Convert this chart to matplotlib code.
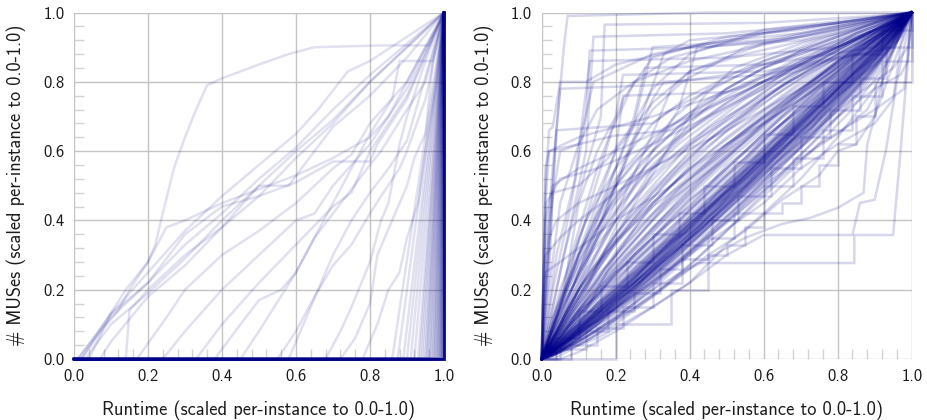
import matplotlib
matplotlib.use("Agg")
import matplotlib.pyplot as plt
from matplotlib.ticker import MultipleLocator, FormatStrFormatter

plt.rcParams['font.family'] = ['cmss10', 'DejaVu Sans']
plt.rcParams['axes.unicode_minus'] = False

LINE_COLOR = '#00008b'
XLABEL = 'Runtime (scaled per-instance to 0.0-1.0)'
YLABEL = '# MUSes (scaled per-instance to 0.0-1.0)'
TICKS = [0.0, 0.2, 0.4, 0.6, 0.8, 1.0]

# ---------------- left panel ----------------
# instances whose MUSes only appear at the very end: runtime fraction where
# the first MUS is found (curve then rises straight to (1, 1))
left_late_starts = [0.86, 0.875, 0.89, 0.90, 0.91, 0.92, 0.93, 0.935, 0.94,
                    0.945, 0.95, 0.953, 0.956, 0.96, 0.963, 0.966, 0.97,
                    0.972, 0.975, 0.977, 0.98, 0.982, 0.984, 0.986, 0.988,
                    0.99, 0.991, 0.992, 0.994, 0.995, 0.996, 0.997, 0.998,
                    0.999, 1.0, 1.0, 1.0, 1.0, 1.0, 1.0, 1.0, 1.0, 1.0, 1.0,
                    1.0, 1.0, 1.0, 1.0, 1.0, 1.0, 1.0, 1.0, 1.0, 1.0, 1.0]

# instances with MUSes spread over the run
left_curves = [
    [(0.0, 0.0), (0.02, 0.0), (0.08, 0.10), (0.14, 0.20), (0.20, 0.28),
     (0.22, 0.33), (0.24, 0.42), (0.27, 0.55), (0.30, 0.64), (0.33, 0.72),
     (0.36, 0.79), (0.40, 0.81), (0.50, 0.85), (0.58, 0.88), (0.65, 0.90),
     (0.83, 0.905), (0.96, 0.905), (1.0, 1.0)],
    [(0.0, 0.0), (0.01, 0.0), (0.1, 0.12), (0.2, 0.22), (0.3, 0.33),
     (0.4, 0.42), (0.5, 0.52), (0.6, 0.61), (0.7, 0.72), (0.8, 0.82),
     (0.9, 0.91), (1.0, 1.0)],
    [(0.0, 0.0), (0.03, 0.0), (0.1, 0.10), (0.2, 0.19), (0.3, 0.29),
     (0.4, 0.40), (0.5, 0.50), (0.6, 0.60), (0.7, 0.69), (0.8, 0.80),
     (1.0, 1.0)],
    [(0.0, 0.0), (0.02, 0.0), (0.08, 0.09), (0.12, 0.14), (0.15, 0.20),
     (0.20, 0.28), (0.25, 0.38), (0.30, 0.40), (0.40, 0.45), (0.50, 0.49),
     (0.60, 0.53), (0.70, 0.58), (0.80, 0.64), (0.85, 0.70), (1.0, 1.0)],
    [(0.0, 0.0), (0.04, 0.0), (0.1, 0.13), (0.2, 0.22), (0.3, 0.36),
     (0.4, 0.44), (0.5, 0.47), (0.6, 0.51), (0.7, 0.57), (0.8, 0.57),
     (0.82, 0.62), (0.9, 0.75), (1.0, 1.0)],
    [(0.0, 0.0), (0.07, 0.0), (0.1, 0.05), (0.2, 0.18), (0.3, 0.27),
     (0.4, 0.38), (0.5, 0.50), (0.58, 0.50), (0.65, 0.60), (0.7, 0.67),
     (0.8, 0.76), (0.9, 0.87), (1.0, 1.0)],
    [(0.0, 0.0), (0.01, 0.0), (0.1, 0.13), (0.2, 0.25), (0.3, 0.37),
     (0.4, 0.47), (0.5, 0.56), (0.6, 0.65), (0.66, 0.72), (0.74, 0.83),
     (0.8, 0.86), (0.9, 0.93), (1.0, 1.0)],
    [(0.0, 0.0), (0.14, 0.0), (0.15, 0.14), (0.2, 0.20), (0.3, 0.30),
     (0.4, 0.38), (0.5, 0.47), (0.6, 0.58), (0.7, 0.68), (0.8, 0.80),
     (1.0, 1.0)],
    [(0.0, 0.0), (0.17, 0.0), (0.25, 0.12), (0.3, 0.20), (0.4, 0.30),
     (0.5, 0.37), (0.6, 0.45), (0.7, 0.55), (0.75, 0.59), (0.8, 0.68),
     (0.9, 0.80), (1.0, 1.0)],
    [(0.0, 0.0), (0.24, 0.0), (0.3, 0.08), (0.4, 0.20), (0.5, 0.30),
     (0.6, 0.40), (0.65, 0.42), (0.7, 0.50), (0.8, 0.62), (0.9, 0.78),
     (1.0, 1.0)],
    [(0.0, 0.0), (0.33, 0.0), (0.4, 0.10), (0.5, 0.22), (0.6, 0.33),
     (0.7, 0.44), (0.75, 0.48), (0.8, 0.60), (0.9, 0.76), (1.0, 1.0)],
    [(0.0, 0.0), (0.38, 0.0), (0.45, 0.10), (0.5, 0.17), (0.56, 0.20),
     (0.6, 0.25), (0.65, 0.35), (0.7, 0.42), (0.8, 0.56), (0.83, 0.60),
     (0.9, 0.72), (0.95, 0.80), (1.0, 1.0)],
    [(0.0, 0.0), (0.45, 0.0), (0.5, 0.08), (0.6, 0.25), (0.7, 0.45),
     (0.8, 0.65), (0.86, 0.75), (0.88, 0.86), (0.97, 0.86), (1.0, 1.0)],
    [(0.0, 0.0), (0.55, 0.0), (0.6, 0.08), (0.65, 0.18), (0.7, 0.27),
     (0.75, 0.33), (0.8, 0.42), (0.83, 0.47), (0.88, 0.55), (0.9, 0.60),
     (0.95, 0.75), (1.0, 1.0)],
    [(0.0, 0.0), (0.58, 0.0), (0.62, 0.10), (0.66, 0.20), (0.7, 0.30),
     (0.75, 0.40), (0.8, 0.48), (0.85, 0.55), (0.9, 0.63), (1.0, 1.0)],
    [(0.0, 0.0), (0.68, 0.0), (0.72, 0.08), (0.75, 0.15), (0.8, 0.28),
     (0.83, 0.40), (0.85, 0.45), (0.88, 0.62), (0.9, 0.70), (0.95, 0.86),
     (1.0, 1.0)],
    [(0.0, 0.0), (0.72, 0.0), (0.76, 0.06), (0.8, 0.16), (0.82, 0.30),
     (0.86, 0.40), (0.9, 0.50), (0.92, 0.58), (0.95, 0.65), (0.97, 0.86),
     (1.0, 1.0)],
    [(0.0, 0.0), (0.78, 0.0), (0.82, 0.10), (0.85, 0.20), (0.88, 0.25),
     (0.9, 0.35), (0.93, 0.45), (0.95, 0.60), (0.98, 0.80), (1.0, 1.0)],
]

# ---------------- right panel ----------------
grid_a = [0.0, 0.1, 0.2, 0.3, 0.4, 0.5, 0.6, 0.7, 0.8, 0.9, 1.0]
grid_b = [0.0, 0.05, 0.15, 0.25, 0.35, 0.45, 0.55, 0.65, 0.75, 0.85, 0.95, 1.0]
grid_c = [0.0, 0.03, 0.13, 0.23, 0.33, 0.43, 0.53, 0.63, 0.73, 0.83, 0.93, 1.0]
grid_d = [0.0, 0.07, 0.17, 0.27, 0.37, 0.47, 0.57, 0.67, 0.77, 0.87, 0.97, 1.0]
grid_e = [0.0, 0.05, 0.10, 0.15, 0.20, 0.25, 0.30, 0.35, 0.40, 0.45, 0.50,
          0.55, 0.60, 0.65, 0.70, 0.75, 0.80, 0.85, 0.90, 0.95, 1.0]

# MUS fraction sampled on grid_a
right_on_grid_a = [
    [0, .09, .19, .28, .39, .48, .58, .69, .79, .90, 1],
    [0, .08, .17, .27, .37, .47, .57, .67, .78, .88, 1],
    [0, .11, .21, .31, .41, .51, .61, .71, .81, .91, 1],
    [0, .07, .16, .25, .35, .44, .55, .66, .76, .87, 1],
    [0, .10, .20, .30, .40, .50, .60, .70, .80, .90, 1],
    [0, .12, .23, .33, .43, .53, .63, .73, .83, .92, 1],
    [0, .06, .14, .23, .33, .43, .53, .64, .74, .86, 1],
    [0, .09, .18, .29, .38, .49, .59, .68, .78, .89, 1],
    [0, .13, .24, .35, .44, .55, .65, .74, .84, .93, 1],
    [0, .08, .18, .26, .36, .46, .56, .65, .77, .88, 1],
    [0, .05, .12, .20, .30, .40, .50, .61, .72, .84, 1],
    [0, .10, .22, .32, .42, .52, .62, .72, .82, .92, 1],
    [0, .14, .27, .38, .48, .58, .68, .77, .86, .94, 1],
    [0, .07, .15, .24, .34, .45, .54, .63, .75, .86, 1],
    [0, .09, .20, .30, .39, .49, .60, .70, .80, .90, 1],
    [0, .04, .10, .18, .27, .37, .48, .59, .70, .83, 1],
    [0, .11, .20, .29, .40, .50, .59, .69, .80, .91, 1],
    [0, .08, .16, .26, .38, .48, .58, .68, .78, .89, 1],
    [0, .15, .28, .40, .50, .58, .67, .76, .84, .92, 1],
    [0, .18, .33, .45, .55, .64, .72, .80, .87, .94, 1],
    [0, .20, .36, .49, .59, .67, .74, .81, .87, .93, 1],
    [0, .13, .26, .37, .47, .57, .66, .75, .83, .91, 1],
    [0, .16, .30, .42, .52, .61, .70, .78, .86, .93, 1],
    [0, .22, .40, .53, .63, .70, .76, .82, .88, .94, 1],
    [0, .25, .45, .58, .66, .73, .79, .85, .90, .95, 1],
    [0, .12, .25, .35, .46, .55, .64, .72, .81, .90, 1],
    [0, .30, .52, .64, .71, .77, .82, .87, .91, .95, 1],
    [0, .17, .34, .48, .60, .69, .77, .84, .90, .95, 1],
    [0, .14, .31, .44, .56, .66, .75, .83, .89, .95, 1],
    [0, .28, .47, .60, .70, .78, .84, .89, .93, .97, 1],
    [0, .10, .30, .45, .55, .62, .68, .75, .82, .90, 1],
    [0, .20, .34, .44, .52, .60, .68, .75, .83, .91, 1],
]

# MUS fraction sampled on grid_b
right_on_grid_b = [
    [0, .04, .14, .24, .34, .44, .54, .64, .74, .84, .94, 1],
    [0, .05, .13, .22, .32, .42, .52, .62, .72, .83, .94, 1],
    [0, .06, .16, .26, .36, .46, .56, .66, .76, .86, .95, 1],
    [0, .03, .12, .21, .31, .41, .51, .61, .71, .82, .93, 1],
    [0, .07, .18, .28, .38, .48, .58, .68, .78, .88, .96, 1],
    [0, .04, .13, .23, .33, .43, .53, .63, .73, .83, .93, 1],
    [0, .02, .10, .19, .29, .39, .49, .60, .70, .81, .92, 1],
    [0, .05, .15, .25, .35, .45, .55, .65, .75, .85, .95, 1],
    [0, .06, .14, .24, .33, .43, .54, .63, .74, .84, .94, 1],
    [0, .03, .11, .20, .30, .40, .50, .60, .71, .81, .93, 1],
    [0, .08, .20, .30, .40, .50, .60, .70, .80, .89, .96, 1],
    [0, .04, .12, .22, .31, .41, .52, .62, .73, .83, .94, 1],
    [0, .01, .07, .16, .26, .36, .46, .57, .67, .79, .91, 1],
    [0, .05, .14, .23, .34, .44, .53, .64, .74, .84, .95, 1],
]

# MUS fraction sampled on grid_c
right_on_grid_c = [
    [0, .02, .10, .19, .28, .38, .47, .57, .67, .77, .89, 1],
    [0, .01, .09, .18, .27, .36, .46, .56, .66, .76, .88, 1],
    [0, .02, .11, .20, .30, .39, .49, .59, .69, .79, .90, 1],
    [0, .01, .08, .16, .25, .35, .44, .54, .64, .75, .87, 1],
    [0, .03, .12, .21, .31, .40, .50, .60, .70, .80, .91, 1],
    [0, .02, .09, .17, .26, .36, .45, .55, .65, .76, .88, 1],
    [0, .01, .07, .15, .24, .33, .42, .52, .62, .73, .86, 1],
    [0, .02, .10, .18, .29, .37, .48, .58, .67, .78, .90, 1],
    [0, .03, .13, .22, .32, .42, .51, .61, .71, .81, .92, 1],
    [0, .01, .06, .13, .21, .30, .40, .50, .60, .71, .85, 1],
    [0, .08, .25, .38, .50, .60, .68, .76, .83, .89, .96, 1],
    [0, .06, .20, .32, .44, .54, .64, .72, .80, .88, .95, 1],
    [0, .10, .30, .44, .55, .64, .72, .79, .85, .91, .96, 1],
    [0, .05, .18, .30, .41, .52, .62, .71, .80, .88, .95, 1],
    [0, .12, .35, .50, .61, .69, .76, .82, .87, .92, .97, 1],
    [0, .04, .16, .28, .40, .51, .61, .70, .79, .87, .95, 1],
]

# MUS fraction sampled on grid_d
right_on_grid_d = [
    [0, .05, .14, .24, .34, .44, .54, .64, .74, .84, .95, 1],
    [0, .04, .13, .23, .32, .42, .52, .62, .72, .83, .94, 1],
    [0, .06, .15, .25, .35, .45, .55, .65, .75, .85, .96, 1],
    [0, .03, .12, .21, .30, .40, .50, .60, .70, .81, .93, 1],
    [0, .05, .15, .24, .33, .43, .53, .63, .73, .84, .95, 1],
    [0, .04, .11, .19, .28, .38, .48, .58, .69, .80, .93, 1],
    [0, .06, .16, .26, .36, .46, .56, .66, .76, .86, .97, 1],
    [0, .14, .30, .42, .52, .61, .69, .77, .84, .91, .98, 1],
    [0, .11, .26, .38, .49, .59, .68, .76, .83, .90, .97, 1],
    [0, .18, .38, .52, .62, .70, .77, .83, .88, .93, .98, 1],
    [0, .09, .22, .34, .46, .56, .65, .74, .82, .89, .97, 1],
    [0, .20, .42, .57, .67, .74, .80, .85, .89, .93, .98, 1],
    [0, .13, .29, .43, .55, .65, .73, .80, .86, .92, .98, 1],
]

# MUS fraction sampled on the fine grid_e
right_on_grid_e = [
    [0, .03, .09, .13, .18, .22, .27, .33, .38, .43, .47, .53, .58, .62,
     .68, .73, .77, .82, .88, .93, 1],
    [0, .06, .10, .16, .20, .26, .31, .35, .41, .45, .51, .56, .60, .66,
     .71, .75, .81, .86, .90, .95, 1],
    [0, .02, .07, .12, .16, .21, .25, .31, .36, .40, .46, .50, .56, .61,
     .65, .70, .76, .80, .86, .92, 1],
    [0, .05, .11, .15, .21, .25, .30, .36, .40, .46, .50, .55, .61, .65,
     .70, .76, .80, .85, .90, .94, 1],
    [0, .04, .08, .14, .19, .23, .29, .34, .37, .43, .48, .52, .57, .63,
     .67, .72, .78, .83, .87, .93, 1],
    [0, .07, .13, .19, .24, .30, .35, .41, .46, .50, .56, .60, .65, .70,
     .74, .79, .83, .88, .92, .96, 1],
    [0, .02, .06, .10, .15, .20, .24, .29, .35, .39, .44, .49, .54, .59,
     .64, .69, .74, .80, .85, .91, 1],
    [0, .05, .12, .17, .22, .28, .33, .37, .43, .48, .53, .57, .63, .68,
     .72, .77, .82, .86, .91, .96, 1],
    [0, .03, .08, .11, .17, .20, .26, .30, .35, .41, .45, .50, .55, .60,
     .66, .70, .75, .81, .85, .92, 1],
    [0, .06, .14, .18, .25, .29, .34, .40, .44, .49, .54, .58, .64, .68,
     .73, .78, .82, .87, .92, .96, 1],
    [0, .08, .17, .24, .30, .37, .42, .48, .53, .57, .62, .66, .70, .74,
     .78, .82, .86, .90, .93, .97, 1],
    [0, .10, .20, .28, .36, .42, .48, .53, .58, .63, .67, .71, .75, .79,
     .82, .86, .89, .92, .95, .98, 1],
    [0, .06, .14, .21, .28, .34, .40, .46, .50, .55, .60, .65, .69, .73,
     .77, .81, .85, .89, .93, .97, 1],
    [0, .12, .25, .35, .43, .50, .56, .61, .66, .70, .74, .77, .80, .83,
     .86, .89, .91, .94, .96, .98, 1],
    [0, .15, .30, .42, .50, .57, .62, .67, .71, .75, .78, .81, .84, .86,
     .89, .91, .93, .95, .97, .99, 1],
    [0, .09, .18, .27, .35, .44, .50, .56, .62, .67, .71, .75, .78, .82,
     .85, .88, .91, .94, .96, .98, 1],
]

# instances with irregular progress (early bursts, plateaus, late jumps)
right_curves = [
    [(0, 0), (0.03, 0.10), (0.08, 0.30), (0.15, 0.55), (0.22, 0.75),
     (0.30, 0.87), (0.50, 0.93), (0.80, 0.97), (1, 1)],
    [(0, 0), (0.05, 0.15), (0.10, 0.35), (0.20, 0.60), (0.30, 0.74),
     (0.40, 0.83), (0.60, 0.91), (0.80, 0.95), (1, 1)],
    [(0, 0), (0.02, 0.20), (0.05, 0.45), (0.10, 0.62), (0.15, 0.72),
     (0.25, 0.80), (0.40, 0.86), (0.70, 0.93), (1, 1)],
    [(0, 0), (0.10, 0.20), (0.20, 0.42), (0.30, 0.65), (0.35, 0.78),
     (0.40, 0.83), (0.55, 0.88), (0.80, 0.94), (1, 1)],
    [(0, 0), (0.08, 0.15), (0.15, 0.35), (0.22, 0.55), (0.27, 0.70),
     (0.33, 0.88), (0.40, 0.92), (0.70, 0.95), (1, 1)],
    [(0, 0), (0.12, 0.20), (0.20, 0.38), (0.30, 0.55), (0.40, 0.68),
     (0.50, 0.78), (0.60, 0.84), (0.80, 0.92), (1, 1)],
    [(0, 0), (0.05, 0.10), (0.10, 0.25), (0.15, 0.40), (0.20, 0.55),
     (0.25, 0.68), (0.30, 0.78), (0.40, 0.88), (0.60, 0.95), (1, 1)],
    [(0, 0), (0.06, 0.12), (0.12, 0.28), (0.18, 0.45), (0.24, 0.62),
     (0.30, 0.72), (0.38, 0.80), (0.55, 0.90), (0.80, 0.96), (1, 1)],
    [(0, 0), (0.04, 0.12), (0.09, 0.30), (0.14, 0.48), (0.19, 0.66),
     (0.25, 0.80), (0.35, 0.87), (0.60, 0.94), (1, 1)],
    [(0, 0), (0.10, 0.18), (0.20, 0.36), (0.28, 0.50), (0.36, 0.64),
     (0.44, 0.76), (0.52, 0.84), (0.70, 0.91), (1, 1)],
    [(0, 0), (0.02, 0.30), (0.04, 0.66), (0.06, 0.90), (0.07, 0.99),
     (0.45, 1.0), (1, 1)],
    [(0, 0), (0.01, 0.50), (0.02, 0.66), (0.03, 0.67), (0.05, 0.80),
     (0.12, 0.80), (0.20, 0.85), (0.40, 0.90), (0.60, 0.94), (1, 1)],
    [(0, 0), (0.02, 0.40), (0.05, 0.60), (0.10, 0.62), (0.14, 0.80),
     (0.30, 0.88), (0.50, 0.92), (0.70, 0.94), (1, 1)],
    [(0, 0), (0.01, 0.30), (0.03, 0.55), (0.05, 0.78), (0.30, 0.79),
     (0.50, 0.82), (0.70, 0.88), (0.90, 0.95), (1, 1)],
    [(0, 0), (0.02, 0.35), (0.04, 0.66), (0.30, 0.68), (0.35, 0.72),
     (0.50, 0.80), (0.60, 0.86), (0.80, 0.93), (1, 1)],
    [(0, 0), (0.05, 0.25), (0.10, 0.50), (0.12, 0.60), (0.14, 0.93),
     (0.50, 0.94), (0.80, 0.97), (1, 1)],
    [(0, 0), (0.06, 0.30), (0.12, 0.55), (0.16, 0.70), (0.17, 0.965),
     (0.60, 0.97), (0.90, 0.99), (1, 1)],
    [(0, 0), (0.03, 0.20), (0.08, 0.45), (0.12, 0.70), (0.13, 0.89),
     (0.45, 0.90), (0.70, 0.93), (1, 1)],
    [(0, 0), (0.04, 0.30), (0.09, 0.52), (0.13, 0.86), (0.50, 0.87),
     (0.80, 0.90), (1, 1)],
    [(0, 0), (0.10, 0.30), (0.20, 0.55), (0.25, 0.70), (0.28, 0.84),
     (0.60, 0.85), (0.90, 0.90), (1, 1)],
    [(0, 0), (0.01, 0.45), (0.02, 0.60), (0.10, 0.62), (0.20, 0.645),
     (0.35, 0.66), (0.50, 0.75), (0.70, 0.85), (1, 1)],
    [(0, 0), (0.08, 0.25), (0.15, 0.45), (0.20, 0.60), (0.22, 0.76),
     (0.50, 0.77), (0.75, 0.85), (1, 1)],
    [(0, 0), (0.06, 0.20), (0.10, 0.45), (0.15, 0.60), (0.20, 0.70),
     (0.22, 0.82), (0.60, 0.83), (0.85, 0.88), (1, 1)],
    [(0, 0), (0.10, 0.25), (0.20, 0.50), (0.26, 0.65), (0.30, 0.75),
     (0.33, 0.80), (0.60, 0.82), (0.95, 0.90), (1, 1)],
    [(0, 0), (0.15, 0.30), (0.25, 0.50), (0.30, 0.60), (0.37, 0.72),
     (0.42, 0.90), (0.70, 0.92), (1, 1)],
    [(0, 0), (0.02, 0.25), (0.03, 0.48), (0.10, 0.50), (0.18, 0.58),
     (0.25, 0.68), (0.30, 0.90), (0.60, 0.92), (1, 1)],
    [(0, 0), (0.04, 0.15), (0.10, 0.30), (0.20, 0.50), (0.28, 0.60),
     (0.36, 0.70), (0.45, 0.78), (0.60, 0.85), (0.80, 0.92), (1, 1)],
    [(0, 0), (0.05, 0.20), (0.12, 0.40), (0.20, 0.55), (0.30, 0.68),
     (0.40, 0.76), (0.55, 0.84), (0.75, 0.92), (1, 1)],
    [(0, 0), (0.01, 0.20), (0.02, 0.35), (0.04, 0.40), (0.10, 0.45),
     (0.20, 0.50), (0.35, 0.58), (0.50, 0.66), (0.70, 0.78), (1, 1)],
    [(0, 0), (0.003, 0.10), (0.01, 0.25), (0.05, 0.28), (0.10, 0.32),
     (0.20, 0.40), (0.35, 0.50), (0.55, 0.66), (0.80, 0.84), (1, 1)],
    [(0, 0), (0.005, 0.30), (0.01, 0.55), (0.02, 0.60), (0.10, 0.64),
     (0.30, 0.70), (0.50, 0.77), (0.80, 0.90), (1, 1)],
    [(0, 0), (0.004, 0.20), (0.01, 0.40), (0.03, 0.50), (0.10, 0.55),
     (0.20, 0.60), (0.40, 0.70), (0.70, 0.85), (1, 1)],
    [(0, 0), (0.006, 0.25), (0.012, 0.45), (0.05, 0.52), (0.15, 0.55),
     (0.30, 0.62), (0.60, 0.78), (1, 1)],
    [(0, 0), (0.003, 0.15), (0.01, 0.30), (0.05, 0.35), (0.10, 0.40),
     (0.20, 0.48), (0.40, 0.62), (0.70, 0.82), (1, 1)],
    [(0, 0), (0.10, 0.05), (0.20, 0.12), (0.30, 0.20), (0.42, 0.277),
     (0.845, 0.277), (0.845, 0.358), (0.95, 0.358), (0.955, 0.42),
     (0.97, 0.60), (1, 1)],
    [(0, 0), (0.15, 0.06), (0.30, 0.15), (0.40, 0.22), (0.50, 0.30),
     (0.60, 0.358), (0.84, 0.358), (0.86, 0.45), (0.90, 0.46),
     (0.93, 0.60), (0.96, 0.80), (1, 1)],
    [(0, 0), (0.10, 0.05), (0.25, 0.15), (0.40, 0.26), (0.55, 0.35),
     (0.65, 0.39), (0.725, 0.407), (0.80, 0.436), (0.87, 0.48),
     (0.88, 0.62), (0.90, 0.70), (0.93, 0.85), (1, 1)],
    [(0, 0), (0.15, 0.08), (0.30, 0.18), (0.45, 0.30), (0.55, 0.37),
     (0.65, 0.46), (0.75, 0.53), (0.80, 0.60), (0.85, 0.62), (0.90, 0.70),
     (0.95, 0.85), (1, 1)],
    [(0, 0), (0.05, 0.0), (0.10, 0.02), (0.20, 0.08), (0.30, 0.15),
     (0.40, 0.22), (0.50, 0.33), (0.60, 0.42), (0.70, 0.52), (0.80, 0.64),
     (0.90, 0.78), (1, 1)],
    [(0, 0), (0.20, 0.15), (0.40, 0.30), (0.60, 0.45), (0.70, 0.55),
     (0.80, 0.62), (0.90, 0.68), (0.95, 0.75), (0.97, 0.90), (1, 1)],
    [(0, 0), (0.25, 0.18), (0.50, 0.40), (0.60, 0.50), (0.70, 0.58),
     (0.80, 0.65), (0.88, 0.72), (0.92, 0.80), (0.98, 0.97), (1, 1)],
    [(0, 0), (0.30, 0.25), (0.60, 0.52), (0.80, 0.70), (0.90, 0.78),
     (0.97, 0.82), (0.99, 0.86), (1, 1)],
    [(0, 0), (0.35, 0.30), (0.65, 0.58), (0.85, 0.76), (0.95, 0.84),
     (0.99, 0.90), (1, 1)],
    [(0, 0), (0.30, 0.22), (0.55, 0.44), (0.75, 0.62), (0.90, 0.72),
     (0.98, 0.78), (1, 1)],
]

# staircase instances (MUS count jumps in bursts)
right_stairs = [
    [(0, 0), (0.20, 0.10), (0.35, 0.20), (0.45, 0.30), (0.50, 0.33),
     (0.55, 0.38), (0.60, 0.42), (0.65, 0.45), (0.70, 0.50), (0.75, 0.56),
     (0.80, 0.62), (0.85, 0.70), (0.90, 0.80), (1, 1)],
    [(0, 0), (0.05, 0.03), (0.12, 0.08), (0.18, 0.14), (0.25, 0.19),
     (0.32, 0.26), (0.38, 0.33), (0.46, 0.40), (0.53, 0.47), (0.62, 0.55),
     (0.70, 0.64), (0.78, 0.72), (0.86, 0.81), (0.93, 0.90), (1, 1)],
    [(0, 0), (0.04, 0.06), (0.10, 0.14), (0.16, 0.21), (0.23, 0.28),
     (0.30, 0.36), (0.37, 0.42), (0.44, 0.50), (0.52, 0.57), (0.60, 0.65),
     (0.68, 0.73), (0.76, 0.80), (0.84, 0.88), (0.92, 0.95), (1, 1)],
    [(0, 0), (0.08, 0.04), (0.15, 0.09), (0.22, 0.15), (0.30, 0.22),
     (0.38, 0.29), (0.45, 0.35), (0.52, 0.42), (0.60, 0.50), (0.68, 0.58),
     (0.76, 0.66), (0.84, 0.76), (0.92, 0.86), (1, 1)],
]


def style_axes(ax):
    ax.set_xlim(0, 1)
    ax.set_ylim(0, 1)
    ax.set_xticks(TICKS)
    ax.set_yticks(TICKS)
    ax.xaxis.set_major_formatter(FormatStrFormatter('%.1f'))
    ax.yaxis.set_major_formatter(FormatStrFormatter('%.1f'))
    ax.xaxis.set_minor_locator(MultipleLocator(0.04))
    ax.yaxis.set_minor_locator(MultipleLocator(0.04))
    ax.grid(True, which='major', color='#c4c4c4', linewidth=1.0)
    ax.set_axisbelow(True)
    ax.tick_params(which='major', length=0, pad=7, labelsize=12,
                   labelcolor='#1a1a1a')
    ax.tick_params(which='minor', direction='in', length=7, width=1,
                   color='#d2d2d2')
    for s in ax.spines.values():
        s.set_visible(False)
    ax.set_xlabel(XLABEL, fontsize=13.3, labelpad=12, color='#1a1a1a')
    ax.set_ylabel(YLABEL, fontsize=13.2, labelpad=12, color='#1a1a1a')


def draw(ax, xs, ys, alpha, step=False):
    ax.plot(xs, ys, color=LINE_COLOR, alpha=alpha, linewidth=1.8,
            drawstyle='steps-post' if step else 'default',
            clip_on=False, solid_joinstyle='miter')


fig = plt.figure(figsize=(9.28, 4.2), dpi=100)
ax1 = fig.add_axes([0.0797, 0.1452, 0.3987, 0.825])
ax2 = fig.add_axes([0.5837, 0.1452, 0.3987, 0.825])

for x0 in left_late_starts:
    draw(ax1, [0.0, x0, 1.0], [0.0, 0.0, 1.0], 0.12)
for pts in left_curves:
    xs, ys = zip(*pts)
    draw(ax1, xs, ys, 0.12)

RIGHT_ALPHA = 0.16
for grid, rows in ((grid_a, right_on_grid_a), (grid_b, right_on_grid_b),
                   (grid_c, right_on_grid_c), (grid_d, right_on_grid_d),
                   (grid_e, right_on_grid_e)):
    for ys in rows:
        draw(ax2, grid, ys, RIGHT_ALPHA)
for pts in right_curves:
    xs, ys = zip(*pts)
    draw(ax2, xs, ys, RIGHT_ALPHA)
for pts in right_stairs:
    xs, ys = zip(*pts)
    draw(ax2, xs, ys, RIGHT_ALPHA, step=True)

style_axes(ax1)
style_axes(ax2)

fig.savefig('out.png', dpi=100)
